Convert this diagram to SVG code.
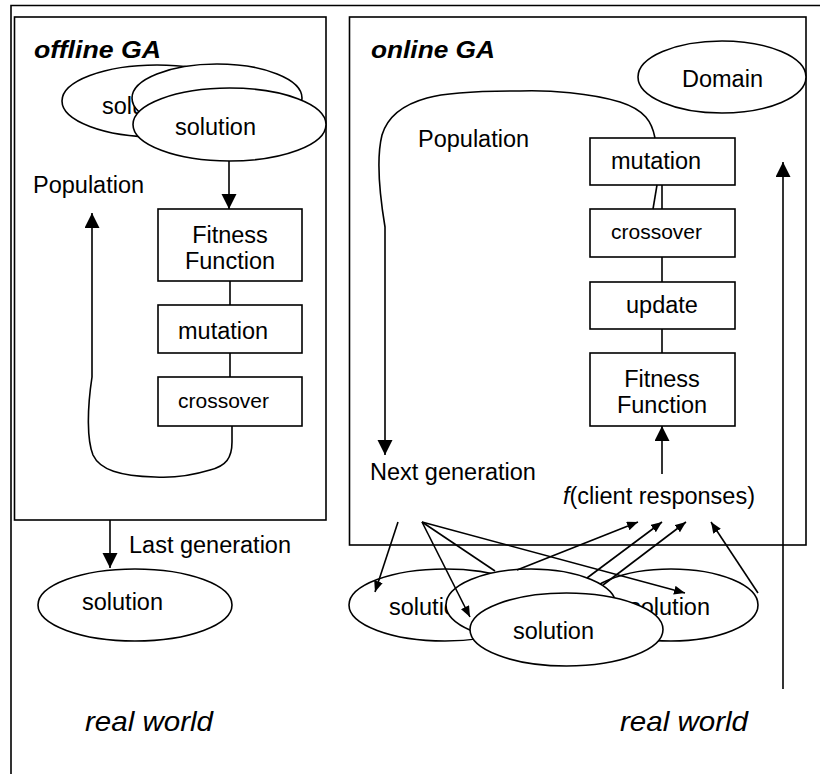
<svg xmlns="http://www.w3.org/2000/svg" width="820" height="774" viewBox="0 0 820 774">
  <style>
    .ln { fill: none; stroke: #000; stroke-width: 1.6; }
    .shape { fill: #fff; stroke: #000; stroke-width: 1.6; }
    .t { font-family: "Liberation Sans", Arial, sans-serif; font-size: 23.5px; fill: #000; }
    .sm { font-size: 21px; }
    .mid { text-anchor: middle; }
    .head { font-family: "Liberation Sans", Arial, sans-serif; font-size: 23px; font-weight: bold; font-style: italic; fill: #000; }
    .world { font-family: "Liberation Sans", Arial, sans-serif; font-size: 28px; font-style: italic; fill: #000; }
  </style>
  <defs>
    <marker id="arrow" markerUnits="userSpaceOnUse" markerWidth="16" markerHeight="16" refX="15" refY="7.5" orient="auto">
      <path d="M0,0 L15,7.5 L0,15 z" fill="#000"/>
    </marker>
    <marker id="arrowSm" markerUnits="userSpaceOnUse" markerWidth="12" markerHeight="10" refX="11" refY="4.5" orient="auto">
      <path d="M0,0 L11,4.5 L0,9 z" fill="#000"/>
    </marker>
  </defs>

  <rect width="820" height="774" fill="#fff"/>

  <!-- outer frame: only top and left edges fall inside the canvas -->
  <path class="ln" d="M11,774 L11,5.5 L820,5.5"/>

  <!-- containers -->
  <g id="offline-ga">
    <rect class="ln" x="14.5" y="17" width="311.5" height="503"/>
    <text class="head" x="34" y="58" textLength="127" lengthAdjust="spacingAndGlyphs">offline GA</text>
  </g>
  <g id="online-ga">
    <rect class="ln" x="349.5" y="17" width="456.5" height="528"/>
    <text class="head" x="371" y="58" textLength="124" lengthAdjust="spacingAndGlyphs">online GA</text>
  </g>

  <!-- offline population stack -->
  <g id="offline-solution-1">
    <ellipse class="shape" cx="157" cy="101" rx="95" ry="36"/>
    <text class="t" x="102" y="114">solution</text>
  </g>
  <g id="offline-solution-2">
    <ellipse class="shape" cx="217" cy="98" rx="85" ry="34"/>
  </g>
  <g id="offline-solution-3">
    <ellipse class="shape" cx="229.5" cy="124.5" rx="96.5" ry="36.5"/>
    <text class="t" x="175" y="135">solution</text>
  </g>
  <g id="offline-population-label">
    <text class="t" x="33" y="193">Population</text>
  </g>

  <g id="offline-fitness">
    <rect class="shape" x="158" y="209" width="144" height="72"/>
    <text class="t mid" x="230" y="243">Fitness</text>
    <text class="t mid" x="230" y="269">Function</text>
  </g>
  <g id="offline-mutation">
    <rect class="shape" x="158" y="305" width="144" height="48"/>
    <text class="t" x="178" y="339">mutation</text>
  </g>
  <g id="offline-crossover">
    <rect class="shape" x="158" y="377" width="144" height="49"/>
    <text class="t sm" x="178" y="408">crossover</text>
  </g>

  <g id="last-generation-label">
    <text class="t" x="129" y="553">Last generation</text>
  </g>
  <g id="final-solution">
    <ellipse class="shape" cx="135" cy="605" rx="97" ry="36"/>
    <text class="t" x="82" y="610">solution</text>
  </g>

  <!-- online side -->
  <g id="domain">
    <ellipse class="shape" cx="722" cy="77" rx="84" ry="36"/>
    <text class="t" x="682" y="87">Domain</text>
  </g>
  <g id="online-population-label">
    <text class="t" x="418" y="147">Population</text>
  </g>
  <g id="online-mutation">
    <rect class="shape" x="590" y="138" width="145" height="47"/>
    <text class="t" x="611" y="169">mutation</text>
  </g>
  <g id="online-crossover">
    <rect class="shape" x="590" y="209" width="145" height="48"/>
    <text class="t sm" x="611" y="239">crossover</text>
  </g>
  <g id="online-update">
    <rect class="shape" x="590" y="282" width="145" height="47"/>
    <text class="t" x="626" y="313">update</text>
  </g>
  <g id="online-fitness">
    <rect class="shape" x="590" y="353" width="145" height="73"/>
    <text class="t mid" x="662" y="387">Fitness</text>
    <text class="t mid" x="662" y="413">Function</text>
  </g>
  <g id="next-generation-label">
    <text class="t" x="370" y="480">Next generation</text>
  </g>
  <g id="client-responses">
    <text class="t" x="563" y="504"><tspan font-style="italic">f</tspan>(client responses)</text>
  </g>

  <!-- deployed solutions in the real world -->
  <g id="client-solution-1">
    <ellipse class="shape" cx="445" cy="605" rx="96" ry="36"/>
    <text class="t" x="389" y="615">solution</text>
  </g>
  <g id="client-solution-2">
    <ellipse class="shape" cx="671" cy="605" rx="87" ry="36"/>
    <text class="t" x="629" y="615">solution</text>
  </g>
  <g id="client-solution-3">
    <ellipse class="shape" cx="531" cy="605" rx="85" ry="36"/>
  </g>
  <g id="client-solution-4">
    <ellipse class="shape" cx="566.5" cy="629.5" rx="96.5" ry="36.5"/>
    <text class="t" x="513" y="639">solution</text>
  </g>

  <g id="real-world-labels">
    <text class="world" x="85" y="731" textLength="128" lengthAdjust="spacingAndGlyphs">real world</text>
    <text class="world" x="620" y="731" textLength="128" lengthAdjust="spacingAndGlyphs">real world</text>
  </g>

  <!-- connectors -->
  <g id="connectors">
    <!-- offline loop -->
    <line class="ln" x1="229" y1="161" x2="229" y2="209" marker-end="url(#arrow)"/>
    <line class="ln" x1="230" y1="281" x2="230" y2="305"/>
    <line class="ln" x1="230" y1="353" x2="230" y2="377"/>
    <path class="ln" d="M232,426 L232,442 C232,458 226,466 210,470 C190,476 170,478 155,477 C120,476 100,470 93,455 C87,440 87,410 92,377 L92,213" marker-end="url(#arrow)"/>
    <line class="ln" x1="110" y1="520" x2="110" y2="568" marker-end="url(#arrow)"/>

    <!-- online loop -->
    <path class="ln" d="M655,138 C652,122 645,110 620,102 C590,93 550,90 520,91 C480,91 445,93 427,98 C405,104 388,115 382,135 C377,155 378,185 385,227 L385,455" marker-end="url(#arrow)"/>
    <line class="ln" x1="657" y1="185" x2="653" y2="209"/>
    <line class="ln" x1="662" y1="185" x2="662" y2="209"/>
    <line class="ln" x1="662" y1="257" x2="662" y2="282"/>
    <line class="ln" x1="662" y1="329" x2="662" y2="353"/>
    <line class="ln" x1="662" y1="474" x2="662" y2="426" marker-end="url(#arrow)"/>
    <line class="ln" x1="783" y1="689" x2="783" y2="162" marker-end="url(#arrow)"/>

    <!-- next generation sent out to clients -->
    <line class="ln" x1="398" y1="522" x2="375" y2="592" marker-end="url(#arrowSm)"/>
    <line class="ln" x1="422" y1="522" x2="470" y2="617" marker-end="url(#arrowSm)"/>
    <line class="ln" x1="422" y1="522" x2="495" y2="571"/>
    <line class="ln" x1="422" y1="522" x2="685" y2="593" marker-end="url(#arrowSm)"/>

    <!-- client responses collected -->
    <line class="ln" x1="517" y1="570" x2="638" y2="522" marker-end="url(#arrowSm)"/>
    <line class="ln" x1="587" y1="578" x2="662" y2="522" marker-end="url(#arrowSm)"/>
    <line class="ln" x1="603" y1="585" x2="686" y2="522" marker-end="url(#arrowSm)"/>
    <line class="ln" x1="758" y1="593" x2="711" y2="522" marker-end="url(#arrowSm)"/>
  </g>
</svg>
